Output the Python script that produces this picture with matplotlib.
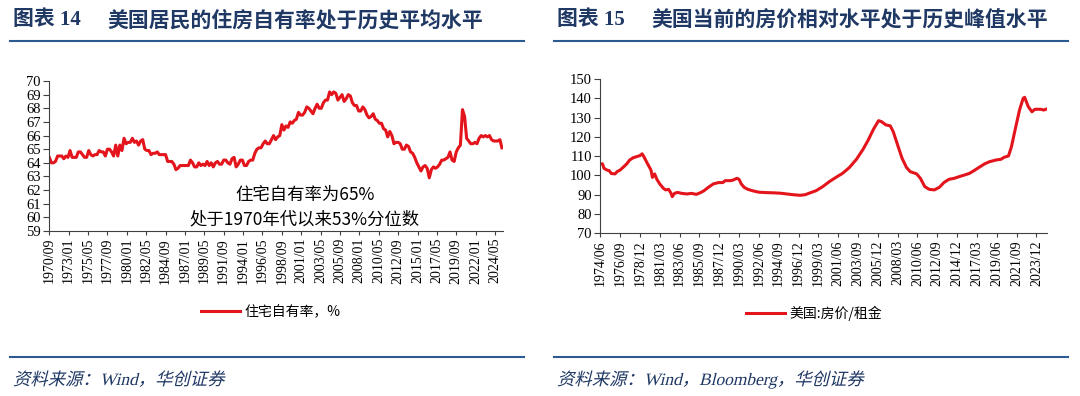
import pandas as pd
import matplotlib
matplotlib.use('Agg')
import matplotlib.pyplot as plt
import matplotlib.dates as mdates
from matplotlib.textpath import TextPath
from matplotlib.patches import PathPatch
from matplotlib.font_manager import FontProperties
from matplotlib.transforms import Affine2D
from matplotlib.lines import Line2D

W, H = 1080, 396
RED = '#E3141B'
NAVY = '#1F3864'
BLUE = '#2E5A94'
AXC = '#404040'
CJK = ['Noto Sans CJK SC', 'DejaVu Sans']
MIX = ['Liberation Serif', 'Noto Sans CJK SC', 'DejaVu Sans']

plt.rcParams['font.family'] = MIX

# 图表14: 住宅自有率(季度, 从1970Q3开始)
own_start = '1970-09-01'
own_rate = [
    64.4, 64.0,
    64.0, 64.1, 64.5, 64.5,  # 1971
    64.5, 64.3, 64.5, 64.4,
    64.9, 64.4, 64.4, 64.4,
    64.8, 64.8, 64.6, 64.4,
    64.4, 64.9, 64.6, 64.5,  # 1975
    64.6, 64.6, 64.9, 64.8,
    64.8, 64.5, 65.0, 65.0,
    64.8, 64.5, 65.3, 64.5,
    65.3, 64.9, 65.8, 65.4,
    65.5, 65.5, 65.8, 65.5,  # 1980
    65.6, 65.3, 65.6, 65.7,
    65.0, 64.9, 64.9, 64.6,
    64.7, 64.7, 64.8, 64.6,
    64.6, 64.6, 64.6, 64.1,
    64.1, 64.1, 63.9, 63.5,  # 1985
    63.6, 63.8, 63.8, 63.8,
    63.8, 63.8, 64.2, 64.0,
    63.7, 63.7, 64.0, 63.8,
    63.9, 63.8, 64.1, 63.8,
    64.0, 63.7, 64.0, 64.1,  # 1990
    63.9, 63.9, 64.2, 64.2,
    64.0, 63.9, 64.3, 64.4,
    63.7, 63.9, 64.2, 64.2,
    63.8, 63.8, 64.1, 64.2,
    64.2, 64.7, 65.0, 65.1,  # 1995
    65.1, 65.4, 65.6, 65.4,
    65.4, 65.7, 66.0, 65.7,
    65.9, 66.0, 66.8, 66.4,
    66.7, 66.6, 67.0, 66.9,
    67.1, 67.2, 67.7, 67.5,  # 2000
    67.5, 67.7, 68.1, 68.0,
    67.8, 67.6, 68.0, 68.3,
    68.0, 68.0, 68.4, 68.6,
    68.6, 69.2, 69.0, 69.2,
    69.1, 68.6, 68.8, 69.0,  # 2005
    68.5, 68.7, 69.0, 68.9,
    68.4, 68.2, 68.2, 67.8,
    67.8, 68.1, 67.9, 67.5,
    67.3, 67.4, 67.6, 67.2,
    67.1, 66.9, 66.9, 66.5,  # 2010
    66.4, 65.9, 66.3, 66.0,
    65.4, 65.5, 65.5, 65.4,
    65.0, 65.0, 65.3, 65.2,
    64.8, 64.7, 64.4, 64.0,
    63.7, 63.4, 63.7, 63.8,  # 2015
    63.6, 62.9, 63.5, 63.7,
    63.6, 63.7, 63.9, 64.2,
    64.2, 64.3, 64.4, 64.8,
    64.2, 64.1, 64.8, 65.1,
    65.3, 67.9, 67.4, 65.8,  # 2020
    65.6, 65.4, 65.4, 65.5,
    65.4, 65.8, 66.0, 65.9,
    66.0, 65.9, 66.0, 65.7,
    65.6, 65.6, 65.6, 65.7,
    65.1,                    # 2025Q1
]
own_label = '住宅自有率，%'
own_note = ['住宅自有率为65%', '处于1970年代以来53%分位数']

# 图表15: 美国房价/租金
ratio_dates = [
    '1974-06', '1974-09', '1974-11', '1975-03', '1975-06', '1975-09', '1976-02',
    '1976-05', '1976-09', '1977-01', '1977-06', '1977-10', '1978-03', '1978-08',
    '1978-12', '1979-03', '1979-05', '1979-10', '1980-03', '1980-05', '1980-08',
    '1980-11', '1981-03', '1981-08', '1981-11', '1982-03', '1982-06', '1982-08',
    '1982-11', '1983-03', '1983-09', '1984-04', '1984-10', '1985-05', '1985-10',
    '1986-03', '1986-09', '1987-04', '1987-11', '1988-05', '1988-08', '1989-03',
    '1989-07', '1989-12', '1990-03', '1990-06', '1990-10', '1991-03', '1991-10',
    '1992-06', '1993-04', '1994-01', '1994-11', '1995-08', '1996-05', '1997-02',
    '1997-09', '1998-04', '1998-12', '1999-09', '2000-06', '2001-03', '2001-12',
    '2002-09', '2003-07', '2004-04', '2004-11', '2005-06', '2006-01', '2006-05',
    '2006-11', '2007-05', '2007-09', '2008-03', '2008-09', '2009-03', '2009-08',
    '2010-05', '2010-10', '2011-04', '2011-10', '2012-05', '2012-12', '2013-06',
    '2014-01', '2014-08', '2015-03', '2015-10', '2016-05', '2016-11', '2017-06',
    '2018-01', '2018-08', '2019-05', '2019-12', '2020-04', '2020-10', '2021-02',
    '2021-07', '2022-01', '2022-06', '2022-08', '2023-01', '2023-06', '2023-10',
    '2024-06', '2024-10', '2025-01',
]
ratio_vals = [
    106.0, 106.0, 103.7, 102.8, 102.5, 101.0, 100.8,
    102.0, 102.8, 104.2, 106.0, 108.0, 109.2, 109.8,
    110.3, 111.2, 110.0, 106.3, 102.8, 99.0, 100.8,
    98.0, 95.6, 93.3, 92.5, 92.8, 91.0, 89.0,
    90.7, 91.2, 90.7, 90.4, 90.7, 90.2, 91.0,
    92.0, 93.8, 95.6, 96.3, 96.3, 97.3, 97.3,
    97.6, 98.5, 98.0, 95.6, 93.8, 92.8, 92.0,
    91.3, 91.1, 91.0, 90.8, 90.4, 90.0, 89.7,
    90.0, 91.0, 92.1, 94.2, 96.8, 99.0, 101.1,
    104.0, 108.4, 113.6, 118.4, 123.9, 128.4, 127.9,
    126.2, 125.7, 122.7, 115.8, 108.9, 104.2, 102.0,
    100.8, 98.5, 94.2, 92.8, 92.5, 93.9, 96.3,
    98.0, 98.5, 99.4, 100.2, 101.1, 102.5, 104.2,
    105.9, 107.1, 108.0, 108.4, 109.4, 110.1, 114.9,
    123.6, 133.9, 140.0, 140.5, 135.6, 133.0, 134.3,
    134.3, 133.9, 134.3,
]
ratio_label = '美国:房价/租金'

titles = [('图表 14', '美国居民的住房自有率处于历史平均水平'),
          ('图表 15', '美国当前的房价相对水平处于历史峰值水平')]
sources = ['资料来源：Wind，华创证券', '资料来源：Wind，Bloomberg，华创证券']


def rect(x0, y0, x1, y1):
    """像素坐标(左上原点) -> figure坐标"""
    return [x0 / W, 1 - y1 / H, (x1 - x0) / W, (y1 - y0) / H]


def slanted(fig, x, y, s, size, color):
    # 没有斜体字体, 用路径错切一下
    tp = TextPath((0, 0), s, size=size, prop=FontProperties(family=MIX))
    tr = Affine2D().skew_deg(14, 0).scale(fig.dpi / 72).translate(x, H - y)
    fig.add_artist(PathPatch(tp, transform=tr, color=color, lw=0))


def style_axes(ax, tick_start, n_ticks, step):
    for s in ['top', 'right']:
        ax.spines[s].set_visible(False)
    for s in ['left', 'bottom']:
        ax.spines[s].set_color(AXC)
        ax.spines[s].set_linewidth(0.8)
    ticks = pd.date_range(tick_start, periods=n_ticks, freq=step)
    ax.set_xticks(mdates.date2num(ticks.to_pydatetime()))
    ax.set_xticklabels([t.strftime('%Y/%m') for t in ticks], rotation=90)
    ax.tick_params(axis='x', direction='out', length=3, width=0.8, color=AXC,
                   labelsize=10, pad=2)
    ax.tick_params(axis='y', direction='out', length=4, width=0.8, color=AXC,
                   labelsize=10.5, pad=2)


fig = plt.figure(figsize=(W / 100, H / 100), dpi=100)

# 左图
ax1 = fig.add_axes(rect(49.3, 81, 503.3, 231))
own_dates = pd.date_range(own_start, periods=len(own_rate), freq='3MS')
ax1.plot(own_dates, own_rate, color=RED, lw=2.2, label=own_label)
ax1.set_xlim(pd.Timestamp('1970-09-01'), pd.Timestamp('2025-05-01'))
ax1.set_ylim(59, 70)
ax1.set_yticks(range(59, 71))
style_axes(ax1, '1970-09-01', 24, '28MS')
ax1.legend(loc='center', bbox_to_anchor=(271 / W, 1 - 312 / H),
           bbox_transform=fig.transFigure, frameon=False,
           handlelength=2.8, handletextpad=0.35, prop={'family': CJK, 'size': 10})
fig.text(305 / W, 1 - 195 / H, own_note[0], family=CJK, size=12.5,
         ha='center', va='center')
fig.text(305 / W, 1 - 219 / H, own_note[1], family=CJK, size=12.5,
         ha='center', va='center')

# 右图
ax2 = fig.add_axes(rect(600.3, 79, 1046.7, 233.3))
ax2.plot(pd.to_datetime(ratio_dates), ratio_vals, color=RED, lw=2.2,
         label=ratio_label)
ax2.set_xlim(pd.Timestamp('1974-06-01'), pd.Timestamp('2025-02-01'))
ax2.set_ylim(70, 150)
ax2.set_yticks(range(70, 151, 10))
style_axes(ax2, '1974-06-01', 23, '27MS')
ax2.legend(loc='center', bbox_to_anchor=(814 / W, 1 - 313 / H),
           bbox_transform=fig.transFigure, frameon=False,
           handlelength=2.8, handletextpad=0.35, prop={'family': CJK, 'size': 10})

# 标题, 分割线, 来源
for i, x0 in enumerate([10, 554]):
    fig.text((x0 + 2.7) / W, 1 - 20 / H, titles[i][0], family=MIX,
             weight='bold', size=15, color=NAVY, va='center')
    fig.text((x0 + 97) / W, 1 - 20 / H, titles[i][1], family=CJK,
             weight='bold', size=15, color=NAVY, va='center')
    for y in [41, 356.5]:
        fig.add_artist(Line2D([x0 / W, (x0 + 514) / W], [1 - y / H] * 2,
                              color=BLUE, lw=1.5))
    slanted(fig, x0 + 3, 385, sources[i], 12.5, NAVY)

fig.savefig('out.png', dpi=100)
